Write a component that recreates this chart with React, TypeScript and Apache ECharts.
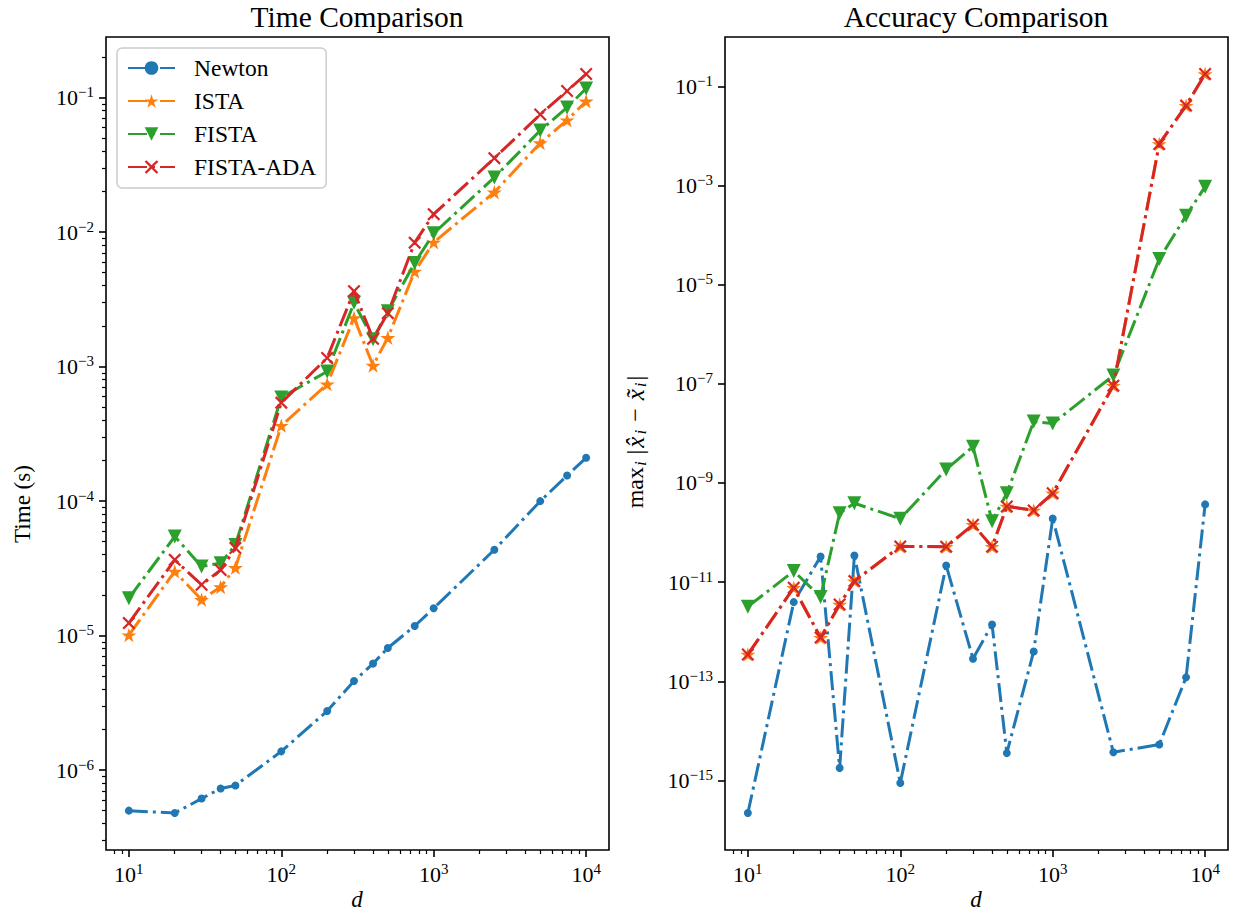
import React, { useEffect, useRef } from "react";
import * as echarts from "echarts";

// ---------- data ----------
const dValues = [10, 20, 30, 40, 50, 100, 200, 300, 400, 500, 750, 1000, 2500, 5000, 7500, 10000];
const seriesNames = ["Newton", "ISTA", "FISTA", "FISTA-ADA"];

const timeNewton = [5.0e-7, 4.8e-7, 6.15e-7, 7.3e-7, 7.7e-7, 1.38e-6, 2.75e-6, 4.6e-6, 6.2e-6, 8.1e-6, 1.18e-5, 1.6e-5, 4.35e-5, 1.0e-4, 1.55e-4, 2.1e-4];
const timeISTA = [1.01e-5, 3.0e-5, 1.85e-5, 2.3e-5, 3.2e-5, 3.64e-4, 7.4e-4, 2.3e-3, 1.02e-3, 1.64e-3, 5.1e-3, 8.4e-3, 1.98e-2, 4.6e-2, 6.8e-2, 9.4e-2];
const timeFISTA = [1.9e-5, 5.46e-5, 3.27e-5, 3.46e-5, 4.73e-5, 5.9e-4, 9.2e-4, 2.98e-3, 1.6e-3, 2.58e-3, 5.9e-3, 9.8e-3, 2.55e-2, 5.7e-2, 8.45e-2, 1.17e-1];
const timeFISTAADA = [1.24e-5, 3.66e-5, 2.39e-5, 3.08e-5, 4.48e-5, 5.4e-4, 1.16e-3, 3.64e-3, 1.61e-3, 2.5e-3, 8.35e-3, 1.36e-2, 3.55e-2, 7.5e-2, 1.12e-1, 1.5e-1];

const accNewton = [2.2e-16, 3.95e-12, 3.3e-11, 1.78e-15, 3.45e-11, 8.9e-16, 2.17e-11, 2.85e-13, 1.4e-12, 3.56e-15, 4.0e-13, 1.92e-10, 3.7e-15, 5.3e-15, 1.2e-13, 3.7e-10];
const accISTA = [3.48e-13, 7.7e-12, 7.6e-13, 3.55e-12, 1.05e-11, 5.25e-11, 5.2e-11, 1.44e-10, 5.2e-11, 3.36e-10, 2.8e-10, 6.2e-10, 9.2e-8, 6.9e-3, 4.1e-2, 1.78e-1];
const accFISTA = [3.2e-12, 1.67e-11, 5.0e-12, 2.46e-10, 3.9e-10, 1.9e-10, 1.87e-9, 5.4e-9, 1.7e-10, 6.2e-10, 1.74e-8, 1.58e-8, 1.47e-7, 3.3e-5, 2.47e-4, 9.5e-4];
const accFISTAADA = [3.48e-13, 7.7e-12, 7.6e-13, 3.55e-12, 1.05e-11, 5.25e-11, 5.2e-11, 1.44e-10, 5.2e-11, 3.36e-10, 2.8e-10, 6.2e-10, 9.2e-8, 6.9e-3, 4.1e-2, 1.78e-1];

const timeData = [timeNewton, timeISTA, timeFISTA, timeFISTAADA];
const accData = [accNewton, accISTA, accFISTA, accFISTAADA];

// ---------- style ----------
const FONT = '"Liberation Serif", "DejaVu Serif", serif';
const COLORS = ["#1f77b4", "#ff7f0e", "#2ca02c", "#d62728"];
const STAR = "path://M50,0 L61.23,34.55 L97.55,34.55 L68.17,55.9 L79.39,90.45 L50,69.1 L20.61,90.45 L31.83,55.9 L2.45,34.55 L38.77,34.55 Z";
const TRI_DOWN = "path://M0,0 L10,0 L5,10 Z";
const XMARK = "path://M1.2,0 L5,3.8 L8.8,0 L10,1.2 L6.2,5 L10,8.8 L8.8,10 L5,6.2 L1.2,10 L0,8.8 L3.8,5 L0,1.2 Z";
const SYMBOLS = ["circle", STAR, TRI_DOWN, XMARK];
const SYMBOL_SIZES = [8, 15, 14, 13];
const DASH = [19, 5, 3, 5];

const GRID_TOP = 37;
const GRID_H = 813;
const GRID_W = 503;
const LEFT_X = 106;
const RIGHT_X = 725;

function logRange(values: number[]): [number, number] {
  const l = values.map((v) => Math.log10(v));
  const mn = Math.min(...l);
  const mx = Math.max(...l);
  const pad = (mx - mn) * 0.05;
  return [mn - pad, mx + pad];
}

function majorTicks(r: [number, number], oddOnly = false): number[] {
  const out: number[] = [];
  for (let n = Math.ceil(r[0]); n <= Math.floor(r[1]); n++) {
    if (oddOnly && Math.abs(n) % 2 !== 1) continue;
    out.push(n);
  }
  return out;
}

function minorTicks(r: [number, number]): number[] {
  const out: number[] = [];
  for (let n = Math.floor(r[0]) - 1; n <= Math.ceil(r[1]); n++) {
    for (let k = 2; k <= 9; k++) {
      const v = n + Math.log10(k);
      if (v >= r[0] && v <= r[1]) out.push(v);
    }
  }
  return out;
}

const expLabel = (v: number) => {
  const n = Math.round(v);
  const s = n < 0 ? "\u2212" + Math.abs(n) : String(n);
  return `{b|10}{s|${s}}`;
};

const RICH = {
  b: { fontSize: 22, fontFamily: FONT, color: "#000" },
  s: { fontSize: 15, fontFamily: FONT, color: "#000", padding: [0, 0, 11, 0] },
};

function majorAxis(r: [number, number], ticks: number[], gridIndex: number, position: string, margin: number) {
  return {
    type: "value",
    gridIndex,
    position,
    min: r[0],
    max: r[1],
    axisLine: { show: false },
    splitLine: { show: false },
    axisTick: { show: true, length: 7, lineStyle: { color: "#000", width: 1.6 }, customValues: ticks },
    axisLabel: { show: true, customValues: ticks, formatter: expLabel, margin, rich: RICH },
  };
}

function minorAxis(r: [number, number], ticks: number[], gridIndex: number, position: string) {
  return {
    type: "value",
    gridIndex,
    position,
    offset: 0,
    min: r[0],
    max: r[1],
    axisLine: { show: false },
    splitLine: { show: false },
    axisTick: { show: true, length: 4, lineStyle: { color: "#000", width: 1.2 }, customValues: ticks },
    axisLabel: { show: false },
  };
}

function buildOption() {
  const xr = logRange(dValues);
  const yrL = logRange(timeData.flat());
  const yrR = logRange(accData.flat());

  const xMajor = majorTicks(xr);
  const xMinor = minorTicks(xr);

  const mkSeries = (data: number[][], xi: number, yi: number) =>
    seriesNames.map((name, i) => ({
      type: "line",
      name,
      xAxisIndex: xi,
      yAxisIndex: yi,
      data: dValues.map((d, j) => [Math.log10(d), Math.log10(data[i][j])]),
      symbol: SYMBOLS[i],
      symbolSize: SYMBOL_SIZES[i],
      symbolKeepAspect: true,
      showAllSymbol: true,
      itemStyle: { color: COLORS[i], borderWidth: 0 },
      lineStyle: { color: COLORS[i], width: 3, type: DASH },
      emphasis: { disabled: true },
      z: 2 + i,
    }));

  return {
    animation: false,
    backgroundColor: "#ffffff",
    textStyle: { fontFamily: FONT },
    grid: [
      { left: LEFT_X, top: GRID_TOP, width: GRID_W, height: GRID_H, show: true, borderColor: "#000", borderWidth: 1.6, backgroundColor: "transparent" },
      { left: RIGHT_X, top: GRID_TOP, width: GRID_W, height: GRID_H, show: true, borderColor: "#000", borderWidth: 1.6, backgroundColor: "transparent" },
    ],
    xAxis: [
      majorAxis(xr, xMajor, 0, "bottom", 11),
      minorAxis(xr, xMinor, 0, "bottom"),
      majorAxis(xr, xMajor, 1, "bottom", 11),
      minorAxis(xr, xMinor, 1, "bottom"),
    ],
    yAxis: [
      majorAxis(yrL, majorTicks(yrL), 0, "left", 12),
      minorAxis(yrL, minorTicks(yrL), 0, "left"),
      majorAxis(yrR, majorTicks(yrR, true), 1, "left", 12),
    ],
    legend: {
      orient: "vertical",
      left: 117,
      top: 48,
      padding: [8, 10, 9, 10],
      itemWidth: 47,
      itemHeight: 17,
      itemGap: 9,
      backgroundColor: "rgba(255,255,255,0.8)",
      borderColor: "#cccccc",
      borderWidth: 1.5,
      borderRadius: 5,
      textStyle: { fontFamily: FONT, fontSize: 23.5, color: "#000", padding: [0, 0, 0, 14], lineHeight: 24 },
      data: seriesNames,
      selectedMode: false,
    },
    graphic: [
      { type: "text", x: 357, y: 17, style: { text: "Time Comparison", fontFamily: FONT, fontSize: 29.5, fill: "#000", align: "center", verticalAlign: "middle" } },
      { type: "text", x: 976, y: 17, style: { text: "Accuracy Comparison", fontFamily: FONT, fontSize: 29.5, fill: "#000", align: "center", verticalAlign: "middle" } },
      { type: "text", x: 357, y: 899, style: { text: "d", fontFamily: FONT, fontStyle: "italic", fontSize: 23, lineHeight: 22, fill: "#000", align: "center", verticalAlign: "middle" } },
      { type: "text", x: 976, y: 899, style: { text: "d", fontFamily: FONT, fontStyle: "italic", fontSize: 23, lineHeight: 22, fill: "#000", align: "center", verticalAlign: "middle" } },
      { type: "text", x: 22, y: 504, rotation: Math.PI / 2, style: { text: "Time (s)", fontFamily: FONT, fontSize: 23, fill: "#000", align: "center", verticalAlign: "middle" } },
      {
        type: "text",
        x: 635,
        y: 442,
        rotation: Math.PI / 2,
        style: {
          text: "{n|max}{sub|i}{n|\u2009|}{it|x\u0302}{sub|i}{n| \u2212 }{it|x\u0303}{sub|i}{n||}",
          fontFamily: FONT,
          fontSize: 24,
          fill: "#000",
          align: "center",
          verticalAlign: "middle",
          rich: {
            n: { fontFamily: FONT, fontSize: 24, fill: "#000" },
            it: { fontFamily: FONT, fontSize: 25, fontStyle: "italic", fill: "#000", padding: [0, 1, 0, 2] },
            sub: { fontFamily: FONT, fontSize: 17, fontStyle: "italic", fill: "#000", padding: [11, 2, 0, 1] },
          },
        },
      },
    ],
    series: [...mkSeries(timeData, 0, 0), ...mkSeries(accData, 2, 2)],
  };
}

export default function App() {
  const ref = useRef<HTMLDivElement>(null);
  useEffect(() => {
    if (!ref.current) return;
    const chart = echarts.init(ref.current, null, { renderer: "svg" });
    chart.setOption(buildOption() as any);
    return () => chart.dispose();
  }, []);
  return (
    <div
      ref={ref}
      style={{ position: "fixed", left: 0, top: 0, width: 1233, height: 913, background: "#fff" }}
    />
  );
}
